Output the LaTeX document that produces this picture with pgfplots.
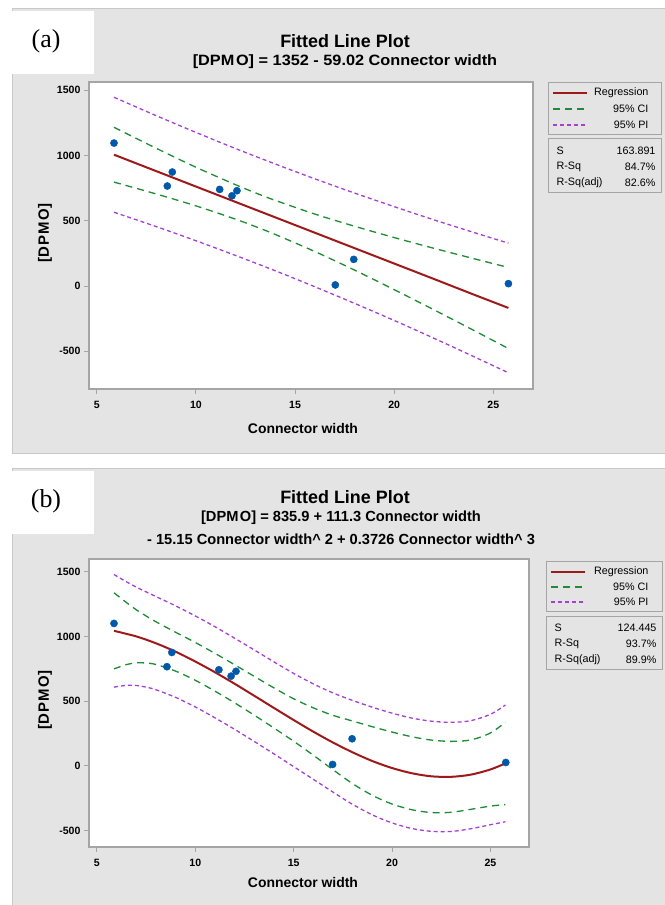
\documentclass[border=0pt]{standalone}
\usepackage{fontspec}
\setmainfont{Liberation Sans}
\newfontfamily\timesfont{Liberation Serif}
\usepackage{pgfplots}
\pgfplotsset{compat=1.18}
\definecolor{bggray}{RGB}{228,228,228}
\definecolor{bdgray}{RGB}{200,200,200}
\definecolor{frgray}{RGB}{165,165,165}
\definecolor{regred}{RGB}{158,26,26}
\definecolor{cigreen}{RGB}{30,140,50}
\definecolor{pipurple}{RGB}{165,65,210}
\definecolor{ptblue}{RGB}{0,88,170}
\pgfplotsset{
 fitstyle/.style={
   anchor=south west, scale only axis,
   axis line style={draw=frgray, line width=1.3bp},
   tick style={draw=frgray, line width=0.8bp},
   tick align=outside, major tick length=5bp,
   xtick pos=bottom, ytick pos=left,
   axis background/.style={fill=white},
   xtick={5,10,15,20,25}, ytick={-500,0,500,1000,1500},
   ticklabel style={font=\fontsize{10.6}{12}\selectfont\bfseries},
   xticklabel style={yshift=-4bp},
   /pgf/number format/assume math mode=true,
   /pgf/number format/1000 sep={},
 },
 reg/.style={draw=regred, line width=2bp, no marks, smooth},
 ci/.style={draw=cigreen, line width=1.3bp, dash pattern=on 7bp off 5bp, no marks, smooth},
 pi/.style={draw=pipurple, line width=1.3bp, dash pattern=on 4bp off 3bp, no marks, smooth},
 pts/.style={only marks, mark=*, mark size=3.6bp, mark options={draw=ptblue, fill=ptblue}},
}
\newcommand{\dpmo}{[DPM\kern1.5bp O]}
\begin{document}
\begin{tikzpicture}[x=1bp,y=1bp]
\path[use as bounding box] (0,0) rectangle (665,905);
% panel backgrounds
\fill[bggray, draw=bdgray, line width=1bp] (12,451) rectangle (666,896);
\fill[bggray, draw=bdgray, line width=1bp] (12,-1) rectangle (666,436);
\fill[white] (0,831) rectangle (94,894);
\fill[white] (0,371) rectangle (94,434);
\node[font=\timesfont\fontsize{26}{28}\selectfont] at (46,864) {(a)};
\node[font=\timesfont\fontsize{26}{28}\selectfont] at (46,404) {(b)};
% titles
\node[font=\fontsize{18}{20}\selectfont\bfseries] at (345,864) {Fitted Line Plot};
\node[font=\fontsize{15}{17}\selectfont\bfseries] at (345,843) {\scalebox{1.09}[1]{\dpmo{} = 1352 - 59.02 Connector width}};
\node[font=\fontsize{18}{20}\selectfont\bfseries] at (345,408) {Fitted Line Plot};
\node[font=\fontsize{14.7}{17}\selectfont\bfseries] at (341,387) {\dpmo{} = 835.9 + 111.3 Connector width};
\node[font=\fontsize{14.7}{17}\selectfont\bfseries] at (341,366) {- 15.15 Connector width\^{} 2 + 0.3726 Connector width\^{} 3};
% axis labels
\node[rotate=90, font=\fontsize{15}{16}\selectfont\bfseries\addfontfeature{LetterSpace=6}] at (45,672) {\dpmo};
\node[font=\fontsize{14}{16}\selectfont\bfseries] at (303,476) {Connector width};
\node[rotate=90, font=\fontsize{15}{16}\selectfont\bfseries\addfontfeature{LetterSpace=6}] at (45,205) {\dpmo};
\node[font=\fontsize{14}{16}\selectfont\bfseries] at (303,22) {Connector width};

% ---------- panel (a)
\begin{axis}[fitstyle, at={(89bp,516bp)}, width=444bp, height=307bp,
  xmin=4.61, xmax=27.0, ymin=-789, ymax=1563]
\addplot[pi] coordinates {(5.87,1446) (8,1305) (10,1177) (12,1053) (14,935) (16,821) (18,712) (20,608) (22,507) (24,411) (25.76,328)};
\addplot[pi] coordinates {(5.87,565) (8,455) (10,347) (12,234) (14,117) (16,-6) (18,-133) (20,-264) (22,-400) (24,-540) (25.76,-665)};
\addplot[ci] coordinates {(5.87,1216) (8,1055) (10,910) (12,776) (13.23,700) (14,656) (16,551) (18,458) (20,371) (22,289) (24,210) (25.76,142)};
\addplot[ci] coordinates {(5.87,796) (8,705) (10,614) (12,512) (13.23,442) (14,395) (16,264) (18,122) (20,-28) (22,-182) (24,-339) (25.76,-479)};
\addplot[reg] coordinates {(5.87,1006) (8,880) (10,762) (12,644) (14,526) (16,408) (18,290) (20,172) (22,54) (24,-65) (25.76,-168)};
\addplot[pts] coordinates {(5.87,1095) (8.56,766) (8.81,873) (11.20,740) (11.82,691) (12.07,730) (17.03,8) (17.96,204) (25.76,18)};
\end{axis}

% ---------- panel (b)
\begin{axis}[fitstyle, at={(89bp,58bp)}, width=440bp, height=288bp,
  xmin=4.60, xmax=26.96, ymin=-627, ymax=1598]
\addplot[pi] coordinates {(5.87,1478) (6.5,1422) (7,1381) (7.5,1344) (8,1308) (9,1236) (10,1158) (11,1075) (12,986) (13,895) (14,803) (15,714) (16,633) (17,563) (18,505) (19,453) (20,407) (21,369) (22,345) (23,336) (24,349) (25,398) (25.76,470)};
\addplot[pi] coordinates {(5.87,608) (6.5,622) (7,621) (7.5,608) (8,588) (9,529) (10,455) (11,371) (12,282) (13,188) (14,92) (15,-6) (16,-104) (17,-203) (18,-298) (19,-379) (20,-441) (21,-484) (22,-506) (23,-507) (24,-486) (25,-455) (25.76,-432)};
\addplot[ci] coordinates {(5.87,1337) (6.5,1262) (7,1206) (7.5,1158) (8,1113) (9,1032) (10,953) (11,869) (12,781) (13,691) (14,602) (15,518) (16,448) (17,390) (18,346) (19,302) (20,261) (21,225) (22,199) (23,189) (24,200) (25,254) (25.76,337)};
\addplot[ci] coordinates {(5.87,749) (6.5,782) (7,796) (7.5,794) (8,783) (9,732) (10,661) (11,577) (12,487) (13,391) (14,292) (15,190) (16,82) (17,-30) (18,-138) (19,-228) (20,-295) (21,-339) (22,-361) (23,-359) (24,-336) (25,-311) (25.76,-299)};
\addplot[reg] coordinates {(5.87,1043) (7,1000) (8,947) (9,882) (10,806) (11,723) (12,634) (13,541) (14,447) (15,354) (16,264) (17,180) (18,104) (19,37) (20,-17) (21,-57) (22,-81) (23,-85) (24,-68) (25,-28) (25.76,19)};
\addplot[pts] coordinates {(5.87,1100) (8.56,766) (8.81,876) (11.20,742) (11.82,693) (12.07,730) (16.98,11) (17.97,209) (25.78,26)};
\end{axis}

% ---------- legends
\begin{scope}[font=\fontsize{10.8}{12}\selectfont]
\draw[frgray, line width=1bp] (548,770) rectangle (661,822);
\draw[regred, line width=2bp] (553,812) -- (587,812);
\draw[cigreen, line width=1.3bp, dash pattern=on 7bp off 5bp] (553,796) -- (587,796);
\draw[pipurple, line width=1.3bp, dash pattern=on 4bp off 3bp] (553,780) -- (587,780);
\node[anchor=east] at (652,812) {Regression};
\node[anchor=east] at (652,796) {95\% CI};
\node[anchor=east] at (652,780) {95\% PI};
\draw[frgray, line width=1bp] (548,712) rectangle (661,766);
\node[anchor=west] at (553,754) {S};
\node[anchor=west] at (553,738) {R-Sq};
\node[anchor=west] at (553,722) {R-Sq(adj)};
\node[anchor=east] at (659,754) {163.891};
\node[anchor=east] at (659,738) {84.7\%};
\node[anchor=east] at (659,722) {82.6\%};
%
\draw[frgray, line width=1bp] (546,293) rectangle (662,343);
\draw[regred, line width=2bp] (551,333) -- (585,333);
\draw[cigreen, line width=1.3bp, dash pattern=on 7bp off 5bp] (551,318) -- (585,318);
\draw[pipurple, line width=1.3bp, dash pattern=on 4bp off 3bp] (551,303) -- (585,303);
\node[anchor=east] at (652,333) {Regression};
\node[anchor=east] at (652,318) {95\% CI};
\node[anchor=east] at (652,303) {95\% PI};
\draw[frgray, line width=1bp] (546,235) rectangle (662,288);
\node[anchor=west] at (551,277) {S};
\node[anchor=west] at (551,261) {R-Sq};
\node[anchor=west] at (551,245) {R-Sq(adj)};
\node[anchor=east] at (660,277) {124.445};
\node[anchor=east] at (660,261) {93.7\%};
\node[anchor=east] at (660,245) {89.9\%};
\end{scope}
\end{tikzpicture}
\end{document}
